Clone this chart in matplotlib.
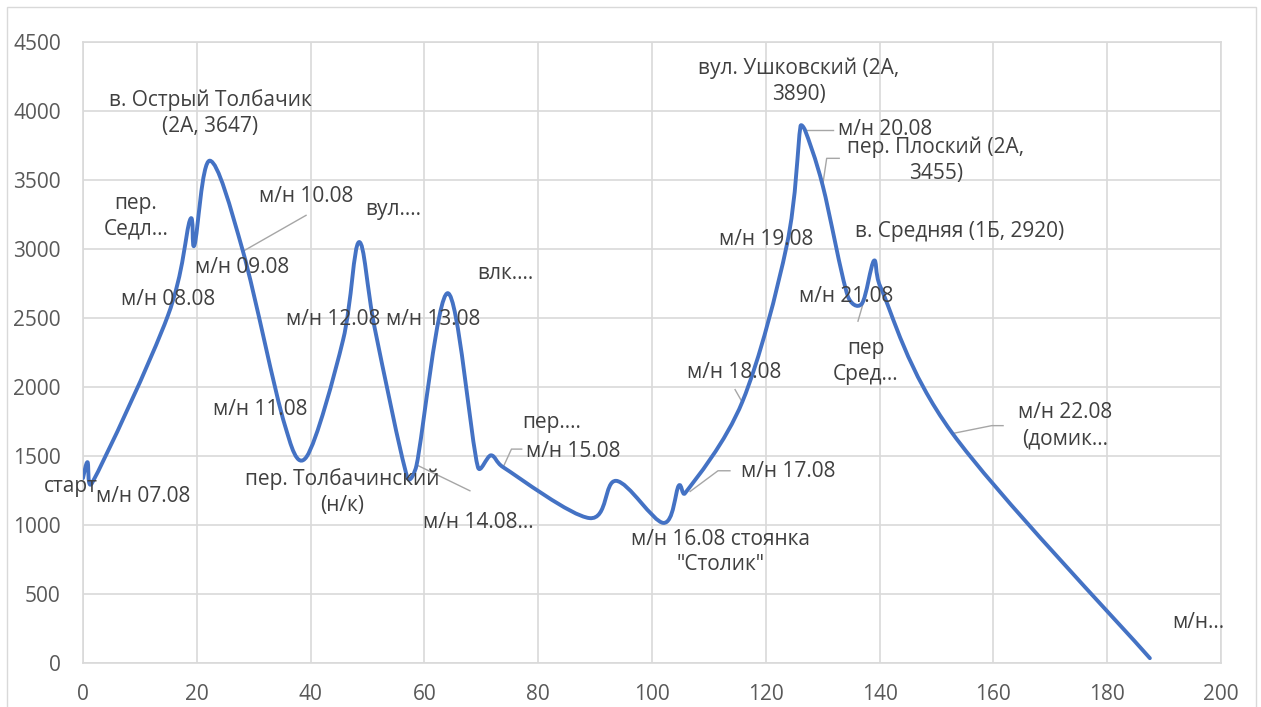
import numpy as np
import matplotlib.pyplot as plt
from matplotlib.path import Path
from matplotlib.patches import PathPatch, Rectangle

# route profile: distance (km) and elevation (m)
dist = [0, 0.8, 1.6, 14.9, 18.8, 19.6, 22.3, 28.1, 35.5, 39.3, 45.7, 48.5, 51.3,
        57.0, 58.6, 64.1, 69.4, 71.7, 73.8, 89.0, 93.7, 102.0, 104.7, 105.8,
        115.9, 123.7, 126.1, 126.9, 130.0, 134.4, 136.9, 139.0, 140.1, 152.7, 187.5]
elev = [1340, 1455, 1305, 2515, 3210, 3030, 3640, 2985, 1720, 1495, 2340, 3050, 2420,
        1345, 1430, 2680, 1420, 1505, 1420, 1050, 1320, 1015, 1285, 1230,
        1895, 3030, 3890, 3860, 3460, 2660, 2605, 2915, 2730, 1670, 35]

labels = ['старт', 'м/н 07.08', 'м/н 08.08', 'пер.\nСедл...', 'м/н 09.08',
          'в. Острый Толбачик\n(2А, 3647)', 'м/н 10.08', 'м/н 11.08',
          'пер. Толбачинский\n(н/к)', 'м/н 12.08', 'вул....', 'м/н 13.08',
          'м/н 14.08...', 'влк....', 'пер....', 'м/н 15.08',
          'м/н 16.08 стоянка\n"Столик"', 'м/н 17.08', 'м/н 18.08', 'м/н 19.08',
          'вул. Ушковский (2А,\n3890)', 'м/н 20.08', 'пер. Плоский (2А,\n3455)',
          'м/н 21.08', 'пер\nСред...', 'в. Средняя (1Б, 2920)',
          'м/н 22.08\n(домик...', 'м/н...']

# where each label sits (text centre, data units)
label_pos = [(-2.2, 1277), (10.5, 1205), (14.9, 2634), (9.3, 3237), (27.9, 2866),
             (22.3, 3984), (39.2, 3382), (31.1, 1836), (45.5, 1241), (43.9, 2489),
             (54.5, 3287), (61.5, 2489), (69.4, 1016), (74.2, 2823), (82.4, 1742),
             (86.1, 1531), (112.1, 805), (123.9, 1386), (114.4, 2104), (120.0, 3070),
             (125.8, 4216), (141.0, 3868), (149.9, 3643), (134.1, 2656), (137.6, 2184),
             (154.0, 3128), (172.6, 1720), (196.1, 290)]

# leader lines from labels to their points
leaders = [
    [(39.2, 3244), (28.1, 2983)],
    [(68.0, 1248), (58.9, 1430)],
    [(77.1, 1550), (75.3, 1550), (73.9, 1424)],
    [(113.7, 1393), (111.6, 1393), (106.7, 1243)],
    [(114.6, 1981), (115.9, 1887)],
    [(131.8, 3865), (126.9, 3865)],
    [(132.9, 3657), (130.7, 3657), (130.0, 3462)],
    [(137.1, 2605), (136.2, 2477)],
    [(161.7, 1720), (159.7, 1720), (152.7, 1662)],
]

# Excel-style smoothed line: Catmull-Rom bezier, arms capped at half a segment
sx, sy = 1138 / 200, 621 / 4500
P = np.column_stack([np.array(dist) * sx, np.array(elev) * sy])
n = len(P)
verts = [tuple(P[0])]
codes = [Path.MOVETO]
for i in range(n - 1):
    p0 = P[max(i - 1, 0)]
    p1, p2 = P[i], P[i + 1]
    p3 = P[min(i + 2, n - 1)]
    seg = np.linalg.norm(p2 - p1)
    a1 = (p2 - p0) / 6
    a2 = (p3 - p1) / 6
    if np.linalg.norm(a1) > seg / 2:
        a1 = a1 / np.linalg.norm(a1) * seg / 2
    if np.linalg.norm(a2) > seg / 2:
        a2 = a2 / np.linalg.norm(a2) * seg / 2
    verts += [tuple(p1 + a1), tuple(p2 - a2), tuple(p2)]
    codes += [Path.CURVE4] * 3
verts = [(vx / sx, vy / sy) for vx, vy in verts]

plt.rcParams['font.family'] = ['Open Sans', 'DejaVu Sans']

fig = plt.figure(figsize=(12.61, 7.07), dpi=100)
ax = fig.add_axes([83 / 1261, 44 / 707, 1138 / 1261, 621 / 707])

fig.patches.append(Rectangle((7 / 1261, -0.05), 1249 / 1261, 1.05 - 7 / 707,
                             transform=fig.transFigure, fill=False,
                             edgecolor='#D9D9D9', lw=1))

ax.add_patch(PathPatch(Path(verts, codes), fill=False, edgecolor='#4472C4',
                       lw=2.8, capstyle='round', joinstyle='round', zorder=3))

for pts in leaders:
    px, py = zip(*pts)
    ax.plot(px, py, color='#A6A6A6', lw=1, zorder=2)

for txt, (lx, ly) in zip(labels, label_pos):
    ax.text(lx, ly, txt, ha='center', va='center', fontsize=15,
            color='#404040', linespacing=1.3, zorder=4, clip_on=False)

ax.set_xlim(0, 200)
ax.set_ylim(0, 4500)
ax.set_xticks(range(0, 201, 20))
ax.set_yticks(range(0, 4501, 500))
ax.grid(True, color='#D9D9D9', lw=1.2)
ax.set_axisbelow(True)
for s in ax.spines.values():
    s.set_color('#D9D9D9')
    s.set_linewidth(1.2)
ax.tick_params(axis='both', length=0, labelsize=15, labelcolor='#595959')
ax.tick_params(axis='x', pad=15)
ax.tick_params(axis='y', pad=16)

fig.savefig('out.png', dpi=100)
